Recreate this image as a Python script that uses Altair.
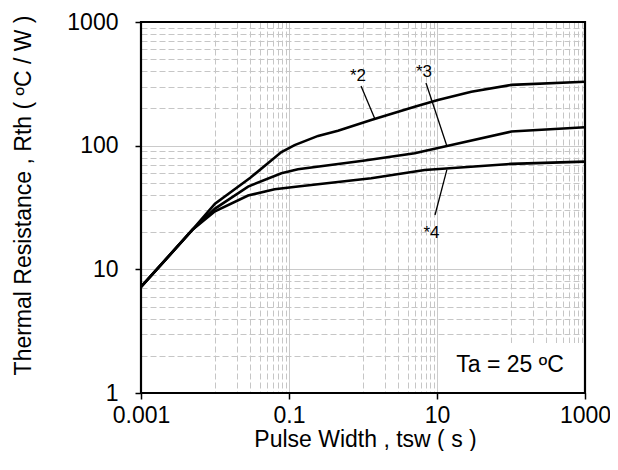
import altair as alt
import pandas as pd

# ---- data ----
pulse_w2 = [0.001, 0.005, 0.01, 0.03, 0.079, 0.119, 0.247, 0.459, 1.29, 4.99, 10.3, 29.1, 101, 1000]
rth2 = [7.2, 21, 34, 55, 88.9, 101, 120, 132, 161, 206, 234, 273, 310, 329]

pulse_w3 = [0.001, 0.005, 0.01, 0.028, 0.079, 0.132, 1.0, 4.99, 14.1, 101, 1000]
rth3 = [7.2, 21, 31, 46.7, 59.8, 64.4, 75.5, 86.7, 100, 130, 141]

pulse_w4 = [0.001, 0.005, 0.01, 0.028, 0.064, 0.132, 1.29, 6.82, 101, 1000]
rth4 = [7.2, 21, 29.5, 39.5, 44.4, 46.7, 54.5, 63.6, 71.2, 74.3]

series_names = ["*2", "*3", "*4"]

label_text = ["*2", "*3", "*4"]
label_x = [0.855, 6.67, 8.43]
label_y = [334, 359, 17.9]

lead_x1 = [0.94, 7.1, 13.6]
lead_y1 = [304, 321, 64]
lead_x2 = [1.45, 13.6, 9.4]
lead_y2 = [164, 99.4, 27.5]

note_text = ["Ta = 25 ºC"]
note_x = [97]
note_y = [1.48]
note_box_x = [10.3, 1000]
note_box_y = [1, 2.54]

x_major = [0.001, 0.1, 10, 1000]
x_tick_labels = ["0.001", "0.1", "10", "1000"]
x_grid = ([0.001, 0.01] + [k / 100 for k in range(2, 10)] + [0.1, 1]
          + list(range(2, 10)) + [10, 100] + list(range(200, 1000, 100)) + [1000])

y_major = [1, 10, 100, 1000]
y_tick_labels = ["1", "10", "100", "1000"]
y_grid = (list(range(1, 10)) + list(range(10, 100, 10))
          + list(range(100, 1000, 100)) + [1000])

x_title = "Pulse Width , tsw ( s )"
y_title = "Thermal Resistance , Rth ( ºC / W )"

FONT = "Liberation Sans"
W, H = 444, 371

# ---- tables (all layers use the same field names px / py) ----
rows = []
for name, xs, ys in zip(series_names, [pulse_w2, pulse_w3, pulse_w4], [rth2, rth3, rth4]):
    for a, b in zip(xs, ys):
        rows.append({"series": name, "px": a, "py": b})
curves = pd.DataFrame(rows)
labels = pd.DataFrame({"text": label_text, "px": label_x, "py": label_y})
leaders = pd.DataFrame({"px": lead_x1, "py": lead_y1, "px2": lead_x2, "py2": lead_y2})
note = pd.DataFrame({"text": note_text, "px": note_x, "py": note_y})
box = pd.DataFrame({"px": [note_box_x[0]], "px2": [note_box_x[1]],
                    "py": [note_box_y[0]], "py2": [note_box_y[1]]})


def label_expr(vals, texts):
    expr = "''"
    for v, t in zip(reversed(vals), reversed(texts)):
        expr = f"datum.value == {v} ? '{t}' : ({expr})"
    return expr


def major_test(vals):
    return "indexof([" + ",".join(str(v) for v in vals) + "], datum.value) >= 0"


xscale = alt.Scale(type="log", domain=[0.001, 1000], nice=False)
yscale = alt.Scale(type="log", domain=[1, 1000], nice=False)

common_axis = dict(
    grid=True,
    gridWidth=1,
    domain=False,
    tickColor="black",
    tickWidth=1.5,
    tickSize=6,
    labelFont=FONT,
    labelFontSize=23,
    labelFontWeight="normal",
    labelColor="black",
    labelOverlap=False,
    labelFlush=False,
    titleFont=FONT,
    titleFontSize=23,
    titleFontWeight="normal",
    titleColor="black",
)

x_axis = alt.Axis(
    values=x_grid,
    labelExpr=label_expr(x_major, x_tick_labels),
    gridDash={"condition": {"test": major_test(x_major), "value": [1, 0]}, "value": [6, 3]},
    gridColor={"condition": {"test": major_test(x_major), "value": "#b8b8b8"}, "value": "#c6c6c6"},
    tickOpacity={"condition": {"test": major_test(x_major), "value": 1}, "value": 0},
    labelPadding=5,
    title=x_title,
    titleX=224,
    titleY=53,
    titleBaseline="alphabetic",
    titleAlign="center",
    **common_axis,
)

y_axis = alt.Axis(
    values=y_grid,
    labelExpr=label_expr(y_major, y_tick_labels),
    gridDash={"condition": {"test": major_test(y_major), "value": [1, 0]}, "value": [6, 3]},
    gridColor={"condition": {"test": major_test(y_major), "value": "#b8b8b8"}, "value": "#c6c6c6"},
    tickOpacity={"condition": {"test": major_test(y_major), "value": 1}, "value": 0},
    labelPadding=17,
    title=y_title,
    titleX=-118,
    titleY=173,
    titleAngle=270,
    titleBaseline="middle",
    titleAlign="center",
    **common_axis,
)

X = alt.X("px:Q", scale=xscale, axis=x_axis)
Y = alt.Y("py:Q", scale=yscale, axis=y_axis)

lines = alt.Chart(curves).mark_line(
    color="black", strokeWidth=2.6
).encode(x=X, y=Y, detail="series:N")

note_bg = alt.Chart(box).mark_rect(color="white").encode(
    x=X, x2="px2:Q", y=Y, y2="py2:Q"
)

leader_rules = alt.Chart(leaders).mark_rule(color="black", strokeWidth=1.3).encode(
    x=X, y=Y, x2="px2:Q", y2="py2:Q"
)

label_marks = alt.Chart(labels).mark_text(
    font=FONT, fontSize=17, color="black", align="center", baseline="alphabetic"
).encode(x=X, y=Y, text="text:N")

note_mark = alt.Chart(note).mark_text(
    font=FONT, fontSize=23, color="black", align="center", baseline="alphabetic"
).encode(x=X, y=Y, text="text:N")

frame = alt.Chart(pd.DataFrame({"k": [0]})).mark_rect(
    filled=False, stroke="black", strokeWidth=2.2
).encode(
    x=alt.value(0), x2=alt.value(W), y=alt.value(0), y2=alt.value(H)
)

chart = alt.layer(
    lines, note_bg, leader_rules, label_marks, note_mark, frame
).properties(
    width=W,
    height=H,
    autosize=alt.AutoSizeParams(type="none"),
    padding={"left": 133, "top": 14, "right": 25, "bottom": 58},
    background="white",
).configure_view(stroke=None)

chart.save("out.html", embed_options={"renderer": "svg", "actions": False})
